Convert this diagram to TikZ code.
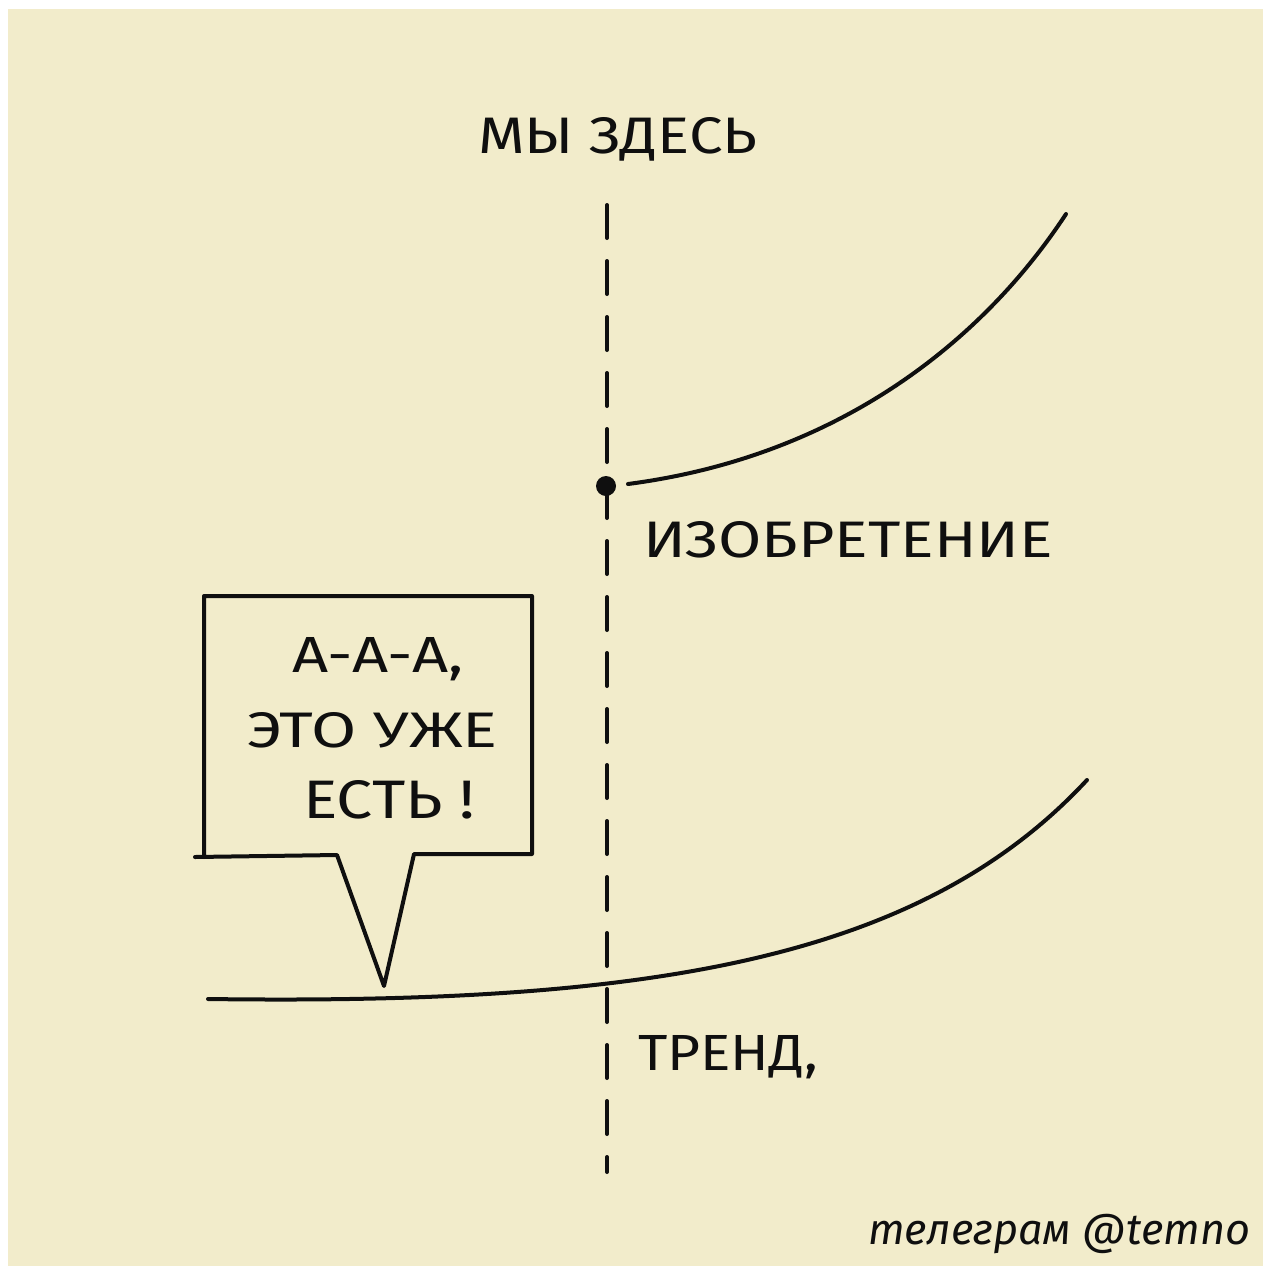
\documentclass[tikz,border=0pt]{standalone}
\usepackage{fontspec}
\setmainfont{Fira Sans}
\definecolor{paper}{RGB}{242,236,203}
\definecolor{ink}{RGB}{15,15,15}
\begin{document}
\begin{tikzpicture}[x=1pt,y=-1pt,
  inkline/.style={draw=ink, line width=4pt, line cap=round, line join=round},
  lbl/.style={inner sep=0pt, outer sep=0pt, anchor=base west, text=ink}]
\useasboundingbox (0,0) rectangle (1263,1267);
\fill[white] (0,0) rectangle (1263,1267);
\fill[paper] (8,9) rectangle (1263,1266);

% labels
\node[lbl] (here) at (478,153) {\resizebox{279pt}{36pt}{МЫ ЗДЕСЬ}};
\node[lbl] (inventlbl) at (643,557) {\resizebox{410pt}{36pt}{ИЗОБРЕТЕНИЕ}};
\node[lbl] (trendlbl) at (638,1070) {\resizebox{180pt}{35pt}{ТРЕНД,}};
\node[lbl] (l1) at (292,672) {\resizebox{172pt}{35pt}{А-А-А,}};
\node[lbl] (l2) at (247,747) {\resizebox{251pt}{35pt}{ЭТО УЖЕ}};
\node[lbl] (l3) at (303,818) {\resizebox{172pt}{38pt}{ЕСТЬ !}};
\node[lbl] (credit) at (868,1244) {\resizebox{382pt}{!}{\itshape телеграм @temno}};

% dashed vertical line
\coordinate (vtop) at (607,205);
\coordinate (vbot) at (607,1172);
\draw[inkline, dash pattern=on 33pt off 23pt] (vtop) -- (vbot);

% invention point and curve
\node[circle, fill=ink, minimum size=20pt, inner sep=0pt] (dot) at (606,486) {};
\coordinate (invstart) at (628,484);
\coordinate (invend) at (1066,214);
\draw[inkline] (invstart) .. controls (850,455) and (990,330) .. (invend);

% trend curve
\coordinate (trstart) at (208,999);
\coordinate (trend) at (1087,780);
\draw[inkline] (trstart) .. controls (650,1005) and (920,960) .. (trend);

% speech bubble
\draw[inkline] (204,857) -- (204,596) -- (532,596) -- (532,854) -- (414,854)
  -- (384,986) -- (337,855) -- (195,857);
\end{tikzpicture}
\end{document}
